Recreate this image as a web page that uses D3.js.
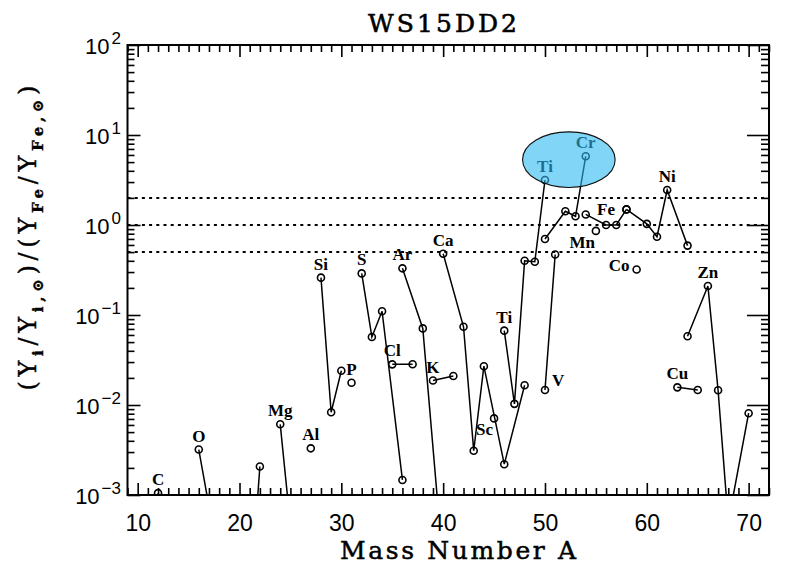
<!DOCTYPE html>
<html><head><meta charset="utf-8">
<script src="https://cdn.jsdelivr.net/npm/d3@7"></script>
<style>body{margin:0;background:#fff}</style>
</head><body>
<svg id="chart" width="795" height="573"></svg>
<script>
// ---- data ----
const elements = ["C","O","Ne","Mg","Al","Si","P","S","Cl","Ar","K","Ca","Sc","Ti","V","Cr","Mn","Fe","Co","Ni","Cu","Zn"];
const massNumbers = [
  [12,13],[16,17,18],[20,21,22],[24,25,26],[27],[28,29,30],[31],[32,33,34,36],[35,37],[36,38,40],[39,41],
  [40,42,43,44,46,48],[45],[46,47,48,49,50],[50,51],[50,52,53,54],[55],[54,56,57,58],[59],[58,60,61,62,64],[63,65],[64,66,67,68,70]
];
const ratios = [
  [1.05e-3,2e-5],[3.2e-3,7.5e-4,1e-4],[1e-5,5.5e-5,2.07e-3],[6.1e-3,4.6e-4,3e-4],[3.3e-3],[0.26,8.3e-3,0.024],[0.0177],
  [0.29,0.057,0.11,1.47e-3],[0.0283,0.0284],[0.33,0.071,1.6e-4],[0.0187,0.021],
  [0.48,0.074,3.1e-3,0.027,2.2e-3,0.0166],[7.1e-3],[0.067,0.0103,0.40,0.39,3.16],[0.0147,0.47],
  [0.70,1.42,1.25,5.8],[0.86],[1.31,1.0,1.0,1.49],[0.32],[1.49,1.03,0.74,2.45,0.59],[0.0157,0.0147],[0.058,0.21,0.0146,5e-4,8.1e-3]
];
const labelText = ["C","O","Mg","Al","Si","P","S","Cl","Ar","K","Ca","Sc","Ti","Ti","V","Cr","Mn","Fe","Co","Ni","Cu","Zn"];
const labelMass = [12,16,24,27,28,31,32,35,36,39,40,45,46,50,50,54,55,56,59,62,63,66];
const labelSide = ["above","above","above","above","above","above","above","above","above","above","above","belowLeft","above","above","right","above","belowLeft","above","left","above","above","above"];
const referenceLines = [0.5, 1, 2];
const xTicks = [10,20,30,40,50,60,70];
const yTicks = [1e-3,1e-2,1e-1,1,10,100];
const yExponents = ["−3","−2","−1","0","1","2"];
const highlighted = [["Ti",50],["Cr",54]];

// ---- layout ----
const svg = d3.select("#chart");
const L = 127.5, R = 769, T = 45, B = 495;
const x = d3.scaleLinear().domain([9,72]).range([L,R]);
const y = d3.scaleLog().domain([1e-3,1e2]).range([B,T]);
const ink = "#000";

svg.append("defs").append("clipPath").attr("id","plotclip")
  .append("rect").attr("x",L).attr("y",T).attr("width",R-L).attr("height",B-T);

// reference dotted lines
svg.append("g").selectAll("line").data(referenceLines).join("line")
  .attr("x1",L).attr("x2",R).attr("y1",d=>y(d)).attr("y2",d=>y(d))
  .attr("stroke",ink).attr("stroke-width",2).attr("stroke-dasharray","3,4.2");

// axes ticks
const minorX = d3.range(9,73).filter(v=>v%10!==0);
const minorY = [];
for (let e=-3;e<2;e++) for (let k=2;k<10;k++) minorY.push(k*Math.pow(10,e));

function styleAxis(g){ g.select(".domain").remove(); g.selectAll(".tick line").attr("stroke",ink).attr("stroke-width",1.6); }

svg.append("g").attr("transform",`translate(0,${B})`)
  .call(d3.axisBottom(x).tickValues(minorX).tickSize(-7).tickFormat("")).call(styleAxis);
const bx = svg.append("g").attr("transform",`translate(0,${B})`)
  .call(d3.axisBottom(x).tickValues(xTicks).tickSize(-12).tickFormat(d3.format("d"))).call(styleAxis);
bx.selectAll("text").attr("y",36).attr("dy",0).attr("fill",ink)
  .style("font-family","Liberation Sans, Arial, sans-serif").style("font-size","23px");

svg.append("g").attr("transform",`translate(0,${T})`)
  .call(d3.axisTop(x).tickValues(minorX).tickSize(-7).tickFormat("")).call(styleAxis);
svg.append("g").attr("transform",`translate(0,${T})`)
  .call(d3.axisTop(x).tickValues(xTicks).tickSize(-12).tickFormat("")).call(styleAxis);

svg.append("g").attr("transform",`translate(${L},0)`)
  .call(d3.axisLeft(y).tickValues(minorY).tickSize(-7).tickFormat("")).call(styleAxis);
svg.append("g").attr("transform",`translate(${L},0)`)
  .call(d3.axisLeft(y).tickValues(yTicks).tickSize(-13).tickFormat("")).call(styleAxis);
svg.append("g").attr("transform",`translate(${R},0)`)
  .call(d3.axisRight(y).tickValues(minorY).tickSize(-8).tickFormat("")).call(styleAxis);
svg.append("g").attr("transform",`translate(${R},0)`)
  .call(d3.axisRight(y).tickValues(yTicks).tickSize(-22).tickFormat("")).call(styleAxis);

// y tick labels with exponents
const yl = svg.append("g").selectAll("text").data(yTicks).join("text")
  .attr("x",121).attr("y",d=>y(d)+9).attr("text-anchor","end").attr("fill",ink)
  .style("font-family","Liberation Sans, Arial, sans-serif").style("font-size","22px");
yl.append("tspan").text("10");
yl.append("tspan").attr("dy",-10).attr("dx",2).style("font-size","17px").text((d,i)=>yExponents[i]);

// frame
svg.append("rect").attr("x",L).attr("y",T).attr("width",R-L).attr("height",B-T)
  .attr("fill","none").attr("stroke",ink).attr("stroke-width",2);

// data
const series = elements.map((el,i)=>({el, pts: massNumbers[i].map((a,j)=>({el, a, v: ratios[i][j]}))}));
const allPts = series.flatMap(s=>s.pts);
const line = d3.line().x(d=>x(d.a)).y(d=>y(d.v));
const plot = svg.append("g").attr("clip-path","url(#plotclip)");
plot.selectAll("path.iso").data(series.filter(s=>s.pts.length>1)).join("path")
  .attr("class","iso").attr("d",s=>line(s.pts)).attr("fill","none").attr("stroke",ink).attr("stroke-width",1.5);
plot.selectAll("circle").data(allPts).join("circle")
  .attr("cx",d=>x(d.a)).attr("cy",d=>y(d.v)).attr("r",3.5)
  .attr("fill","none").attr("stroke",ink).attr("stroke-width",1.6);

// labels
function findVal(el,a){ const s = series.find(s=>s.el===el); return s.pts.find(p=>p.a===a).v; }
const labels = labelText.map((t,i)=>({t, a: labelMass[i], v: findVal(t,labelMass[i]), side: labelSide[i]}));
svg.append("g").selectAll("text").data(labels).join("text")
  .attr("x",d=>{const px=x(d.a); return d.side==="belowLeft"? px-1 : d.side==="right"? px+7 : d.side==="left"? px-7 : px;})
  .attr("y",d=>{const py=y(d.v); return d.side==="belowLeft"? py+17 : d.side==="right"? py-4 : d.side==="left"? py+1 : (d.t==="Fe"? py-10 : py-8);})
  .attr("text-anchor",d=>d.side==="right"?"start": (d.side==="left"||d.side==="belowLeft")?"end":"middle")
  .attr("fill",ink)
  .style("font-family","Liberation Serif, Times New Roman, serif").style("font-weight","bold").style("font-size","17px")
  .text(d=>d.t);

// highlight ellipse (semi-transparent overlay)
const hp = highlighted.map(([el,a])=>[x(a), y(findVal(el,a))]);
const ecx = (hp[0][0]+hp[1][0])/2 + 3.5, ecy = (hp[0][1]+hp[1][1])/2 - 8.5;
svg.append("ellipse").attr("cx",ecx).attr("cy",ecy).attr("rx",46.3).attr("ry",27.8)
  .attr("fill","rgb(45,185,240)").attr("fill-opacity",0.6).attr("stroke","#111").attr("stroke-width",1.1);

// titles
svg.append("text").attr("x",442.5).attr("y",32).attr("text-anchor","middle")
  .attr("textLength",149).attr("lengthAdjust","spacing").attr("fill",ink)
  .attr("stroke",ink).attr("stroke-width",0.6)
  .style("font-family","DejaVu Serif, serif").style("font-size","25px").text("WS15DD2");
svg.append("text").attr("x",458).attr("y",559).attr("text-anchor","middle")
  .attr("textLength",236).attr("lengthAdjust","spacing").attr("fill",ink)
  .attr("stroke",ink).attr("stroke-width",0.5)
  .style("font-family","DejaVu Serif, serif").style("font-size","25px").text("Mass Number A");

// y axis label
const ylab = svg.append("text").attr("transform","translate(36,238) rotate(-90)")
  .attr("text-anchor","middle").attr("fill",ink)
  .attr("textLength",305).attr("lengthAdjust","spacing")
  .attr("stroke",ink).attr("stroke-width",0.4)
  .style("font-family","DejaVu Serif, serif").style("font-size","24px");
const parts = [["(Y",0],["i",1],["/Y",0],["i,⊙",1],[")/(Y",0],["Fe",1],["/Y",0],["Fe,⊙",1],[")",0]];
let prev = 0;
parts.forEach(([t,s])=>{
  const dy = s ? 7 : 0;
  ylab.append("tspan").attr("dy", dy - prev).style("font-size", s? "15px":"24px").style("font-weight", s?"bold":"normal").text(t);
  prev = dy;
});
</script>
</body></html>
